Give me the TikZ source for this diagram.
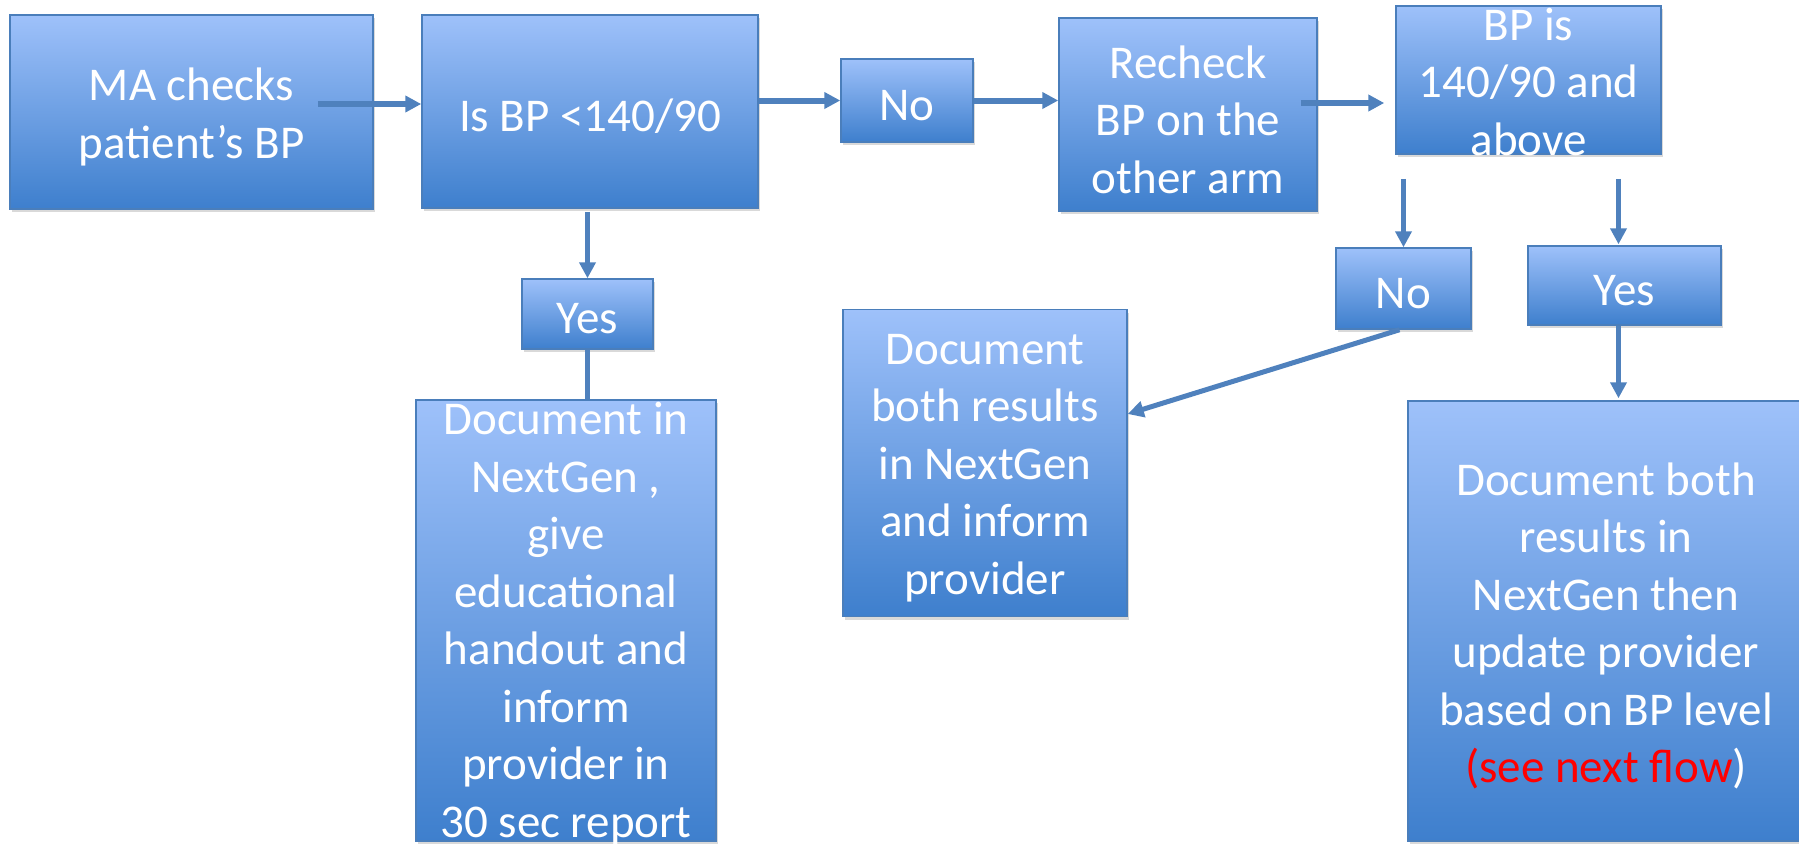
\documentclass[tikz,border=0pt]{standalone}
\usepackage{fontspec}
\setmainfont{Carlito}
\usetikzlibrary{arrows.meta,shadows}
\definecolor{topc}{RGB}{158,193,250}
\definecolor{botc}{RGB}{62,127,205}
\definecolor{edgec}{RGB}{74,126,187}
\definecolor{arrc}{RGB}{79,129,189}
\definecolor{redc}{RGB}{255,0,0}
\begin{document}
\begin{tikzpicture}[x=1pt,y=-1pt,
 box/.style={draw=edgec,line width=1.5pt,top color=topc,bottom color=botc,inner sep=0pt,
   drop shadow={shadow xshift=1.5pt,shadow yshift=-3pt,opacity=0.3}},
 txt/.style={text=white,font=\fontsize{47}{57.5}\selectfont,align=center,inner sep=0pt,yshift=-5pt},
 arr/.style={draw=arrc,line width=5pt,-{Triangle[length=16pt,width=16pt]}},
 harr/.style={arr,line width=6pt},
 ln/.style={draw=arrc,line width=5pt}]
\useasboundingbox (0,0) rectangle (1799,846);
% boxes
\node[box,minimum width=363pt,minimum height=194pt] (b1) at (191.5,112) {};
\node[box,minimum width=336pt,minimum height=193pt] (b2) at (590,111.5) {};
\node[box,minimum width=132pt,minimum height=83pt] (no1) at (907,100.5) {};
\node[box,minimum width=258pt,minimum height=193pt] (rc) at (1188,114.5) {};
\node[box,minimum width=265pt,minimum height=148pt] (bp) at (1528.5,80) {};
\node[box,minimum width=131pt,minimum height=70pt] (yes1) at (587.5,314) {};
\node[box,minimum width=135pt,minimum height=81pt] (no2) at (1403.5,288.5) {};
\node[box,minimum width=193pt,minimum height=79pt] (yes2) at (1624.5,285.5) {};
\node[box,minimum width=300pt,minimum height=441pt] (d1) at (566,620.5) {};
\node[box,minimum width=284pt,minimum height=307pt] (d2) at (985,463) {};
\node[box,minimum width=396pt,minimum height=440pt] (d3) at (1606,621) {};
% texts
\node[txt] (t1) at (b1) {MA checks\\patient’s BP};
\node[txt] (t2) at (b2) {Is BP <140/90};
\node[txt] (tno1) at (no1) {No};
\node[txt] (trc) at (rc) {Recheck\\BP on the\\other arm};
\node[txt,yshift=3pt] (tbp) at (bp) {BP is\\140/90 and\\above};
\node[txt] (tyes1) at (yes1) {Yes};
\node[txt] (tno2) at (no2) {No};
\node[txt] (tyes2) at (yes2) {Yes};
\node[txt,yshift=2pt] (td1) at (d1) {Document in\\NextGen ,\\give\\educational\\handout and\\inform\\provider in\\30 sec report};
\node[txt] (td2) at (d2) {Document\\both results\\in NextGen\\and inform\\provider};
\node[txt] (td3) at (d3) {Document both\\results in\\NextGen then\\update provider\\based on BP level\\\textcolor{redc}{(see next flow})};
% connectors
\coordinate (a1s) at ([shift={(-56,-8)}]b1.east);
\draw[harr] (a1s) -- (a1s -| b2.west);
\draw[harr] (no1.west -| b2.east) -- (no1.west);
\draw[harr] (no1.east) -- (no1.east -| rc.west);
\coordinate (a4s) at ([shift={(-17,-11.5)}]rc.east);
\draw[harr,shorten >=11pt] (a4s) -- (a4s -| bp.west);
\draw[arr,shorten <=3pt] (yes1.north |- b2.south) -- (yes1.north);
\draw[ln] (yes1.south) -- (yes1.south |- d1.north);
\draw[arr,shorten <=24pt] (no2.north |- bp.south) -- (no2.north);
\coordinate (a7s) at ([shift={(-6,0)}]yes2.north);
\draw[arr,shorten <=24pt,shorten >=1pt] (a7s |- bp.south) -- (a7s);
\coordinate (a8s) at ([shift={(-6,0)}]yes2.south);
\draw[arr,shorten >=2pt] (a8s) -- (a8s |- d3.north);
\draw[arr] ([shift={(-4,0)}]no2.south) -- ([shift={(0,-49)}]d2.east);
\end{tikzpicture}
\end{document}
